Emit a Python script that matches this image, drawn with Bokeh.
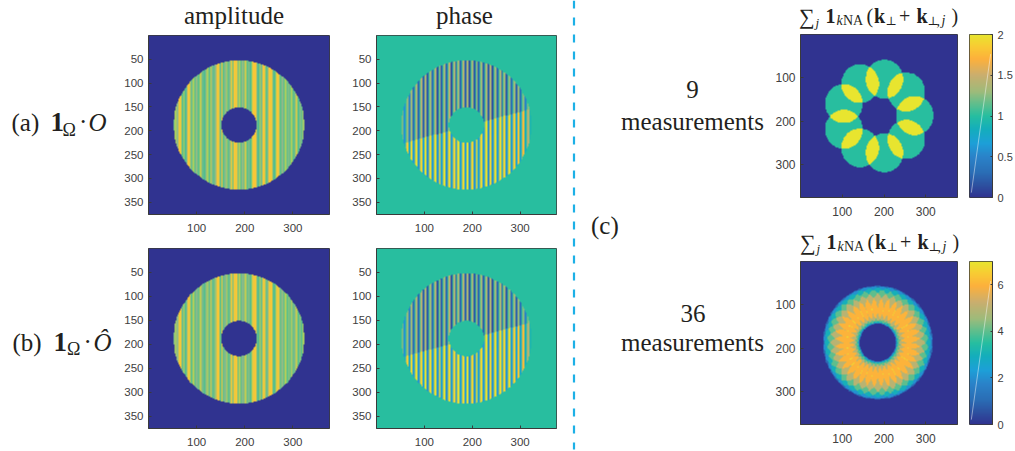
import numpy as np
from bokeh.embed import file_html
from bokeh.resources import INLINE
from bokeh.layouts import column
from bokeh.plotting import figure
from bokeh.models import Range1d, FixedTicker, LinearColorMapper, ColumnDataSource
from bokeh.core.properties import value

# ---- data ----------------------------------------------------------------
SIZE = 376
DISK_X, DISK_Y, DISK_R, HOLE_R = 188, 188, 136, 37
AMP_START, AMP_STEP = 52, 3.3
amp_a = [.60,.72,.66,.86,.84,.58,.72,.55,.65,.86,
         .80,.60,.72,.55,.66,.58,.72,.80,.60,.55,
         .65,.72,.58,.78,.62,.55,.66,.86,.84,.60,
         .86,.58,.66,.72,.55,.62,.80,.58,.86,.84,
         .60,.72,.55,.66,.60,.78,.58,.65,.55,.72,
         .86,.86,.62,.55,.72,.62,.86,.80,.58,.66,
         .86,.84,.60,.55,.72,.86,.82,.58,.65,.55,
         .72,.60,.66,.55,.72,.58,.62,.78,.55,.66,.60,.70]
amp_b = [.62,.70,.66,.84,.86,.60,.74,.56,.66,.84,
         .82,.58,.74,.56,.64,.60,.74,.78,.62,.56,
         .66,.70,.60,.80,.60,.56,.68,.84,.86,.58,
         .84,.60,.64,.74,.56,.60,.82,.60,.84,.86,
         .58,.74,.56,.64,.62,.76,.60,.66,.56,.74,
         .84,.86,.60,.56,.74,.60,.84,.82,.60,.64,
         .84,.86,.58,.56,.74,.84,.84,.60,.66,.56,
         .74,.58,.68,.56,.70,.60,.64,.76,.56,.68,.58,.72]
PHASE_START, PHASE_STEP = 53, 9.7
TILT_Y0, TILT_X0, TILT_SLOPE = 226, 57, -0.27
phase_blue  = [.30,.24,.16,.14,.12,.10,.16,.08,.12,.14,.08,.10,.14,.12,.08,.10,.14,.12,.10,.08,.14,.12,.10,.16,.12,.16,.24,.36]
phase_olive = [.60,.64,.66,.68,.70,.68,.66,.70,.68,.66,.72,.68,.66,.70,.68,.66,.70,.66,.68,.70,.66,.68,.66,.64,.66,.64,.62,.62]
phase_yell  = [.92,.94,.97,.99,.96,1.0,.97,.99,.96,1.0,.97,.96,.99,.97,1.0,.96,.99,.97,1.0,.96,.99,.97,.96,.99,.94,.92,.88,.70]
phase_teal  = [.42,.38,.32,.30,.34,.28,.32,.30,.34,.28,.32,.30,.34,.32,.28,.30,.34,.32,.28,.30,.32,.34,.30,.32,.34,.38,.42,.46]

NA_R = 45
c9_x = [201, 253.5, 273.6, 253.5, 201, 142.8, 104, 104, 142.8]
c9_y = [103, 132.7, 187, 242, 273, 261.5, 218.5, 159.5, 113.5]
c36_x = [272,271,267,260,252,241,229,215,200,185,170,155,141,129,118,110,103,99,98,
         99,103,110,118,129,141,155,170,185,200,215,229,241,252,260,267,271]
c36_y = [187,202,217,231,243,254,262,269,273,274,273,269,262,254,243,231,217,202,187,
         172,157,143,131,120,112,105,101,100,101,105,112,120,131,143,157,172]

palette_stops = [(0.00,"#303390"),(0.07,"#2d4f9f"),(0.15,"#2a6db5"),(0.25,"#2a83c9"),(0.33,"#1d9fd8"),
                 (0.42,"#14aebc"),(0.50,"#26bea0"),(0.57,"#5cbe8e"),(0.65,"#9ebb7a"),(0.75,"#c9ae6e"),
                 (0.85,"#fdb03c"),(0.93,"#f8cc33"),(1.00,"#e8e52f")]
amp_stops = [(0.00,"#303390"),(0.49,"#303390"),(0.50,"#3cb99a"),(0.58,"#5fc08a"),(0.65,"#8fb98a"),
             (0.72,"#a8cf5e"),(0.80,"#d6ca4a"),(0.86,"#f8c737"),(1.00,"#f8c737")]
xticks_main, yticks_main = [100, 200, 300], [50, 100, 150, 200, 250, 300, 350]
yticks_sum = [100, 200, 300]
cb9_ticks, cb36_ticks = [0, .5, 1, 1.5, 2], [0, 2, 4, 6]
cb9_max, cb36_max = 2, 7

SERIF, SANS = "Liberation Serif", "Liberation Sans"
# text, x, y(baseline), size, style, align
labels = [
    ("amplitude", 233.5, 23.5, 25, "normal", "center"), ("phase", 464, 23.5, 25, "normal", "center"),
    ("(a)", 11, 131, 25, "normal", "left"), ("1", 50, 131, 27, "bold", "left"),
    ("Ω", 62, 135.5, 18, "normal", "left"), ("·", 78.5, 130, 25, "normal", "left"), ("O", 88, 131, 25, "italic", "left"),
    ("(b)", 12, 351, 25, "normal", "left"), ("1", 53, 351, 27, "bold", "left"),
    ("Ω", 66.5, 355, 18, "normal", "left"), ("·", 83, 350, 25, "normal", "left"), ("Ô", 93, 351, 25, "italic", "left"),
    ("9", 692, 98, 25, "normal", "center"), ("measurements", 692, 129.5, 25, "normal", "center"),
    ("(c)", 590.5, 234, 25, "normal", "left"),
    ("36", 692.5, 322, 25, "normal", "center"), ("measurements", 692, 351, 25, "normal", "center"),
]
sum_title = [("∑", 798.5, 24, 22, "normal"), ("j", 815, 27, 13, "italic"), ("1", 825, 22, 20, "bold"),
             ("k", 836, 25, 14, "italic"), ("NA", 842.5, 25, 14, "normal"), ("(", 866, 22, 20, "normal"),
             ("k", 873.5, 22, 20, "bold"), ("⊥", 885, 25, 12, "normal"), ("+", 898.5, 22, 20, "normal"),
             ("k", 916, 22, 20, "bold"), ("⊥", 927, 25, 12, "normal"), (",", 936, 25, 14, "normal"),
             ("j", 941, 25, 14, "italic"), (")", 951, 22, 20, "normal")]
SUM_ROW2_DX, SUM_ROW2_DY = 1, 226
BASELINE_FIX = 0.35  # of the font size: lifts the svg text onto its baseline

# ---- colours ------------------------------------------------------------
grid = np.linspace(0, 1, 256)

def make_palette(stop_list):
    stops = np.array([s[0] for s in stop_list])
    rgb = np.array([[int(s[1][i:i+2], 16) for i in (1, 3, 5)] for s in stop_list], float)
    return ["#%02x%02x%02x" % tuple(int(round(np.interp(g, stops, rgb[:, i]))) for i in range(3)) for g in grid]

TEXT, EDGE = "#404040", "#3a3a3a"
mapper = LinearColorMapper(palette=make_palette(palette_stops), low=0, high=1)
amp_mapper = LinearColorMapper(palette=make_palette(amp_stops), low=0, high=1)

# ---- images -------------------------------------------------------------
X, Y = np.meshgrid(np.arange(SIZE) + 0.5, np.arange(SIZE) + 0.5)
RR = np.hypot(X - DISK_X, Y - DISK_Y)
ring = (RR <= DISK_R) & (RR >= HOLE_R)

def amp_image(vals):
    idx = np.clip(((X - AMP_START) / AMP_STEP).astype(int), 0, len(vals) - 1)
    return np.where(ring, np.array(vals)[idx], 0.0)

def phase_image():
    u = (X - PHASE_START) / PHASE_STEP
    k = np.clip(u.astype(int), 0, len(phase_blue) - 1)
    f = u - np.floor(u)
    upper = Y < TILT_Y0 + TILT_SLOPE * (X - TILT_X0)
    b, o, ye, te = map(np.array, (phase_blue, phase_olive, phase_yell, phase_teal))
    top = np.where(f < .4, o[k], np.where(f < .8, b[k], 0.52))
    bot = np.where(f < .4, ye[k], np.where(f < .8, te[k], 0.62))
    return np.where(ring, np.where(upper, top, bot), 0.5)

def count_image(cx, cy, r, cmax):
    total = np.zeros_like(X)
    for a, b in zip(cx, cy):
        total += np.hypot(X - a, Y - b) <= r
    return total / cmax

def wrap(fig, left, top):
    return column(fig, styles={"position": "absolute", "left": f"{left}px", "top": f"{top}px"})

def style_axis(ax, tick_in, size, standoff):
    ax.major_tick_in, ax.major_tick_out, ax.minor_tick_in, ax.minor_tick_out = tick_in, 0, 0, 0
    ax.major_tick_line_color = EDGE
    ax.axis_line_color = EDGE
    ax.major_label_text_font = SANS
    ax.major_label_text_font_size = size
    ax.major_label_text_color = TEXT
    ax.major_label_standoff = standoff

def panel(img, fl, ft, fw, fh, yticks, cmap=mapper, size="11.5px"):
    L, R, T, B = 32, 4, 3, 32
    p = figure(width=fw + L + R, height=fh + T + B, x_range=Range1d(0, SIZE), y_range=Range1d(SIZE, 0),
               output_backend="svg", toolbar_location=None, tools="",
               min_border_left=L, min_border_right=R, min_border_top=T, min_border_bottom=B,
               border_fill_color=None)
    p.image(image=[img], x=0, y=0, dw=SIZE, dh=SIZE, color_mapper=cmap)
    p.grid.visible = False
    p.xaxis.ticker = FixedTicker(ticks=xticks_main)
    p.yaxis.ticker = FixedTicker(ticks=yticks)
    style_axis(p.xaxis[0], 3, size, 9)
    style_axis(p.yaxis[0], 3, size, 5)
    p.outline_line_color = EDGE
    p.outline_line_width = 1
    return wrap(p, fl - L, ft - T)

def colorbar(fl, ft, fw, fh, cmax, ticks):
    L, R, T, B = 2, 26, 8, 8
    p = figure(width=fw + L + R, height=fh + T + B, x_range=Range1d(0, 1), y_range=Range1d(0, cmax),
               output_backend="svg", toolbar_location=None, tools="",
               min_border_left=L, min_border_right=R, min_border_top=T, min_border_bottom=B,
               y_axis_location="right", border_fill_color=None)
    p.image(image=[grid.reshape(-1, 1)], x=0, y=0, dw=1, dh=cmax, color_mapper=mapper)
    src = ColumnDataSource(data=dict(x=[0.08, 0.92], y=[0.03 * cmax, 0.88 * cmax]))
    p.line("x", "y", source=src, line_color="#ffffff", line_alpha=0.45, line_width=1)
    p.grid.visible = False
    p.xaxis.visible = False
    style_axis(p.yaxis[0], 2, "11px", 5)
    p.yaxis[0].ticker = FixedTicker(ticks=ticks)
    p.outline_line_color = EDGE
    return wrap(p, fl - L, ft - T)

# ---- background: texts and separator, in page pixels ----------------------
bg = figure(width=1015, height=451, x_range=Range1d(0, 1015), y_range=Range1d(451, 0),
            output_backend="svg", toolbar_location=None, tools="",
            min_border=0, outline_line_color=None)
bg.axis.visible = False
bg.grid.visible = False
sep = ColumnDataSource(data=dict(x=[573.5, 573.5], y=[0, 449]))
bg.line("x", "y", source=sep, line_color="#1cb0e6", line_width=2.2, line_dash="8 9")

def put(txt, x, y, size, style, align="left"):
    font = "DejaVu Serif" if txt == "⊥" else SERIF
    bg.text(x=[x], y=[y - BASELINE_FIX * size], text=[txt], text_font=value(font), text_font_size=f"{size}px",
            text_font_style=style, text_align=align, text_baseline="alphabetic", text_color="#231f20")

for t, x, y, s, st, al in labels:
    put(t, x, y, s, st, al)
for t, x, y, s, st in sum_title:
    put(t, x, y, s, st)
    put(t, x + SUM_ROW2_DX, y + SUM_ROW2_DY, s, st)

panels = [
    panel(amp_image(amp_a), 147.5, 35, 181, 179, yticks_main, amp_mapper),
    panel(phase_image(), 376, 35, 180, 179, yticks_main),
    panel(amp_image(amp_b), 147.5, 248, 181, 180, yticks_main, amp_mapper),
    panel(phase_image(), 376, 248, 180, 180, yticks_main),
    panel(count_image(c9_x, c9_y, NA_R, cb9_max), 800, 34, 157, 163, yticks_sum, size="12px"),
    panel(count_image(c36_x, c36_y, NA_R - 1, cb36_max), 800, 261, 157, 163, yticks_sum, size="12px"),
    colorbar(969, 34, 23, 163, cb9_max, cb9_ticks),
    colorbar(969, 261, 23, 163, cb36_max, cb36_ticks),
]
page = column(bg, *panels)
open("out.html", "w").write(file_html(page, INLINE))
